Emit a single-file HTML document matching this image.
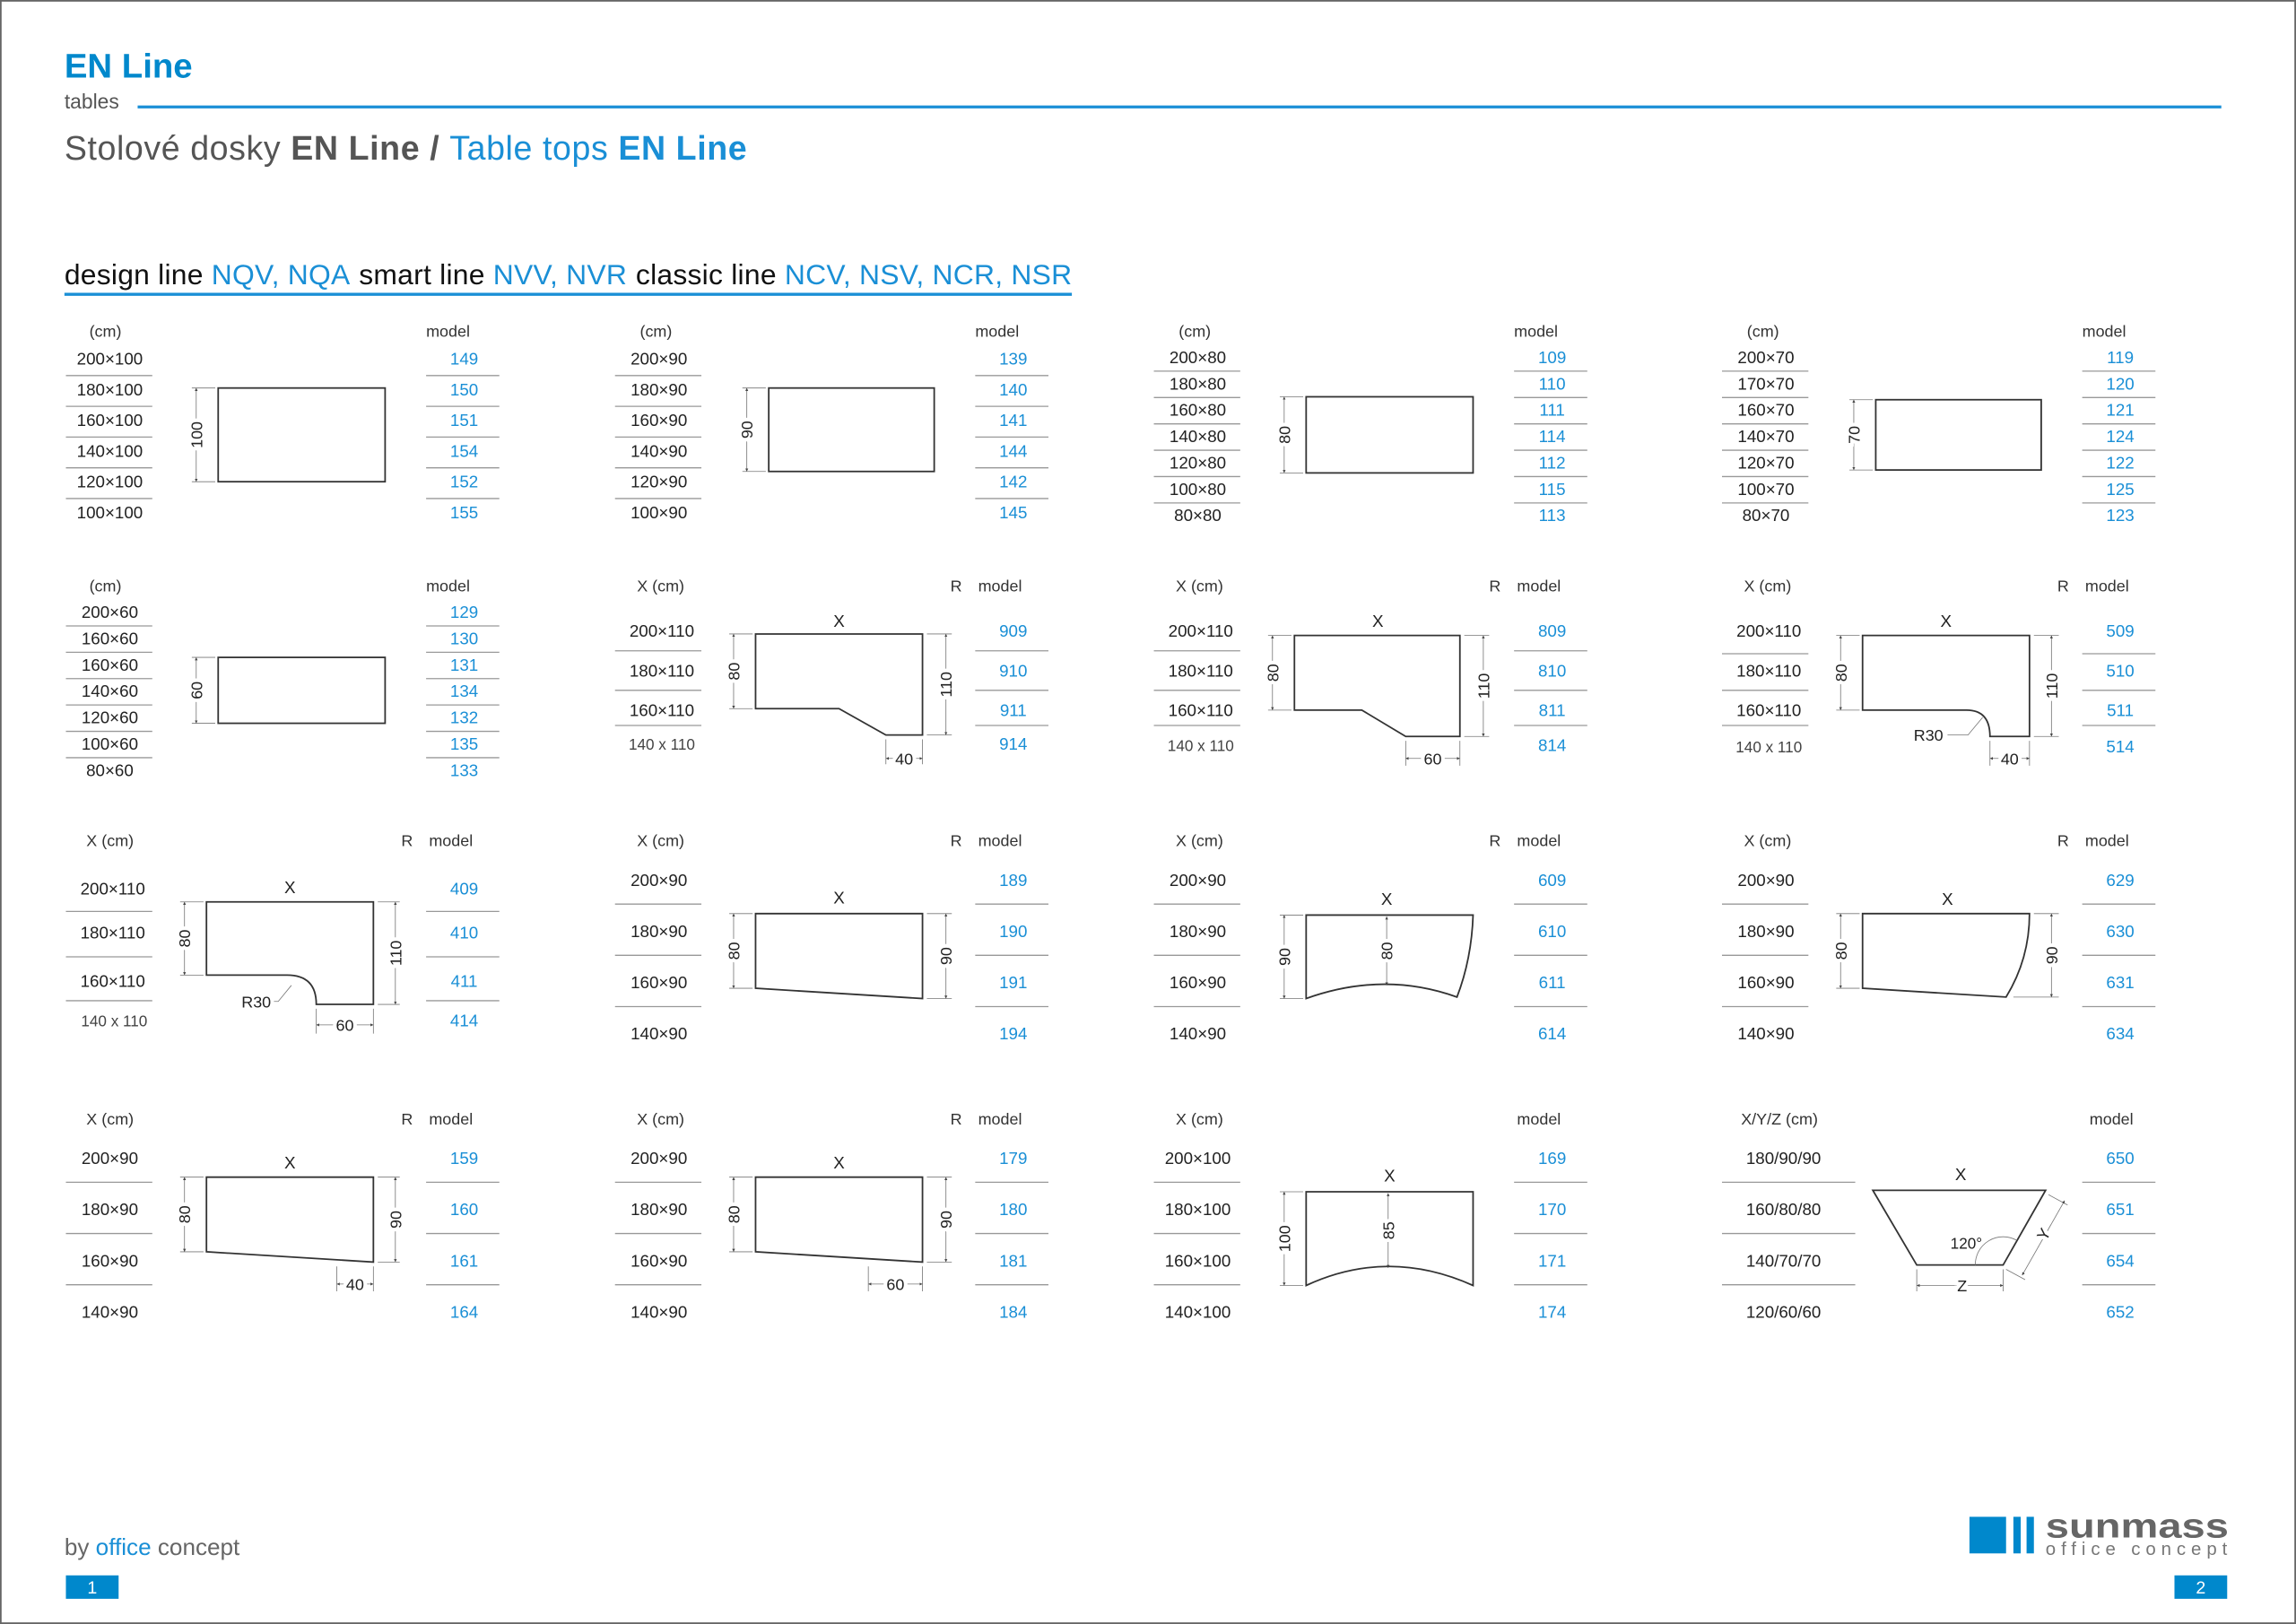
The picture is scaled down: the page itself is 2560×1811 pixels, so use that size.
<!DOCTYPE html>
<html><head><meta charset="utf-8"><style>
html,body{margin:0;padding:0;background:#fff}
svg{display:block}
text{font-family:"Liberation Sans",Arial,sans-serif}
.t{font-size:11.5px;fill:#222;text-anchor:middle}
.m{font-size:11.5px;fill:#1a8fd6;text-anchor:middle}
.h{font-size:11px;fill:#333}
.ln{stroke:#999;stroke-width:.8}
.sh{fill:none;stroke:#333;stroke-width:1.1}
.d{stroke:#777;stroke-width:.5;fill:none}
.dl{font-size:11px;fill:#222;text-anchor:middle;paint-order:stroke;stroke:#fff;stroke-width:5px}
</style></head><body>
<svg width="2560" height="1811" viewBox="0 0 1568 1109.2" xmlns="http://www.w3.org/2000/svg">
<defs>
<marker id="a" viewBox="0 0 6 6" refX="6" refY="3" markerWidth="4" markerHeight="4" orient="auto-start-reverse"><path d="M0,0L6,3L0,6z" fill="#444"/></marker>
</defs>
<rect x="0.5" y="0.5" width="1567" height="1108.2" fill="#fff" stroke="#666" stroke-width="1.2"/>

<!-- header -->
<text x="44" y="53" style="font-size:23.5px;font-weight:bold;fill:#0088cc">EN Line</text>
<text x="44" y="74" style="font-size:14px;fill:#555">tables</text>
<line x1="94" y1="73" x2="1517" y2="73" stroke="#1a8fd6" stroke-width="2"/>
<text x="44" y="109" style="font-size:23px;fill:#555" textLength="466" lengthAdjust="spacing">Stolové dosky <tspan font-weight="bold">EN Line /</tspan> <tspan fill="#1a8fd6">Table tops </tspan><tspan fill="#1a8fd6" font-weight="bold">EN Line</tspan></text>
<text x="44" y="194" style="font-size:19.5px;fill:#111" textLength="688" lengthAdjust="spacing">design line <tspan fill="#1a8fd6">NQV, NQA</tspan><tspan dx="6">smart line </tspan><tspan fill="#1a8fd6">NVV, NVR</tspan><tspan dx="6">classic line </tspan><tspan fill="#1a8fd6">NCV, NSV, NCR, NSR</tspan></text>
<line x1="44" y1="201" x2="732" y2="201" stroke="#1a8fd6" stroke-width="2"/>

<!-- ROW 1 col1 -->
<g>
<text class="h" x="61" y="230">(cm)</text><text class="h" x="291" y="230">model</text>
<text class="t" x="75" y="249">200×100</text><text class="t" x="75" y="270">180×100</text><text class="t" x="75" y="291">160×100</text><text class="t" x="75" y="312">140×100</text><text class="t" x="75" y="333">120×100</text><text class="t" x="75" y="354">100×100</text>
<text class="m" x="317" y="249">149</text><text class="m" x="317" y="270">150</text><text class="m" x="317" y="291">151</text><text class="m" x="317" y="312">154</text><text class="m" x="317" y="333">152</text><text class="m" x="317" y="354">155</text>
<path class="ln" d="M45 256.5H104M45 277.5H104M45 298.5H104M45 319.5H104M45 340.5H104M291 256.5H341M291 277.5H341M291 298.5H341M291 319.5H341M291 340.5H341"/>
<rect class="sh" x="149" y="265" width="114" height="64"/>
<path class="d" d="M131 265H147M131 329H147"/><line class="d" x1="134" y1="265" x2="134" y2="329" marker-start="url(#a)" marker-end="url(#a)"/>
<text class="dl" transform="translate(138,297) rotate(-90)">100</text>
</g>
<!-- ROW 1 col2 -->
<g>
<text class="h" x="437" y="230">(cm)</text><text class="h" x="666" y="230">model</text>
<text class="t" x="450" y="249">200×90</text><text class="t" x="450" y="270">180×90</text><text class="t" x="450" y="291">160×90</text><text class="t" x="450" y="312">140×90</text><text class="t" x="450" y="333">120×90</text><text class="t" x="450" y="354">100×90</text>
<text class="m" x="692" y="249">139</text><text class="m" x="692" y="270">140</text><text class="m" x="692" y="291">141</text><text class="m" x="692" y="312">144</text><text class="m" x="692" y="333">142</text><text class="m" x="692" y="354">145</text>
<path class="ln" d="M420 256.5H479M420 277.5H479M420 298.5H479M420 319.5H479M420 340.5H479M666 256.5H716M666 277.5H716M666 298.5H716M666 319.5H716M666 340.5H716"/>
<rect class="sh" x="525" y="265" width="113" height="57"/>
<path class="d" d="M507 265H523M507 322H523"/><line class="d" x1="510" y1="265" x2="510" y2="322" marker-start="url(#a)" marker-end="url(#a)"/>
<text class="dl" transform="translate(514,293.5) rotate(-90)">90</text>
</g>
<!-- ROW 1 col3 -->
<g>
<text class="h" x="805" y="230">(cm)</text><text class="h" x="1034" y="230">model</text>
<text class="t" x="818" y="248">200×80</text><text class="t" x="818" y="266">180×80</text><text class="t" x="818" y="284">160×80</text><text class="t" x="818" y="302">140×80</text><text class="t" x="818" y="320">120×80</text><text class="t" x="818" y="338">100×80</text><text class="t" x="818" y="356">80×80</text>
<text class="m" x="1060" y="248">109</text><text class="m" x="1060" y="266">110</text><text class="m" x="1060" y="284">111</text><text class="m" x="1060" y="302">114</text><text class="m" x="1060" y="320">112</text><text class="m" x="1060" y="338">115</text><text class="m" x="1060" y="356">113</text>
<path class="ln" d="M788 253.5H847M788 271.5H847M788 289.5H847M788 307.5H847M788 325.5H847M788 343.5H847M1034 253.5H1084M1034 271.5H1084M1034 289.5H1084M1034 307.5H1084M1034 325.5H1084M1034 343.5H1084"/>
<rect class="sh" x="892" y="271" width="114" height="52"/>
<path class="d" d="M874 271H890M874 323H890"/><line class="d" x1="877" y1="271" x2="877" y2="323" marker-start="url(#a)" marker-end="url(#a)"/>
<text class="dl" transform="translate(881,297) rotate(-90)">80</text>
</g>
<!-- ROW 1 col4 -->
<g>
<text class="h" x="1193" y="230">(cm)</text><text class="h" x="1422" y="230">model</text>
<text class="t" x="1206" y="248">200×70</text><text class="t" x="1206" y="266">170×70</text><text class="t" x="1206" y="284">160×70</text><text class="t" x="1206" y="302">140×70</text><text class="t" x="1206" y="320">120×70</text><text class="t" x="1206" y="338">100×70</text><text class="t" x="1206" y="356">80×70</text>
<text class="m" x="1448" y="248">119</text><text class="m" x="1448" y="266">120</text><text class="m" x="1448" y="284">121</text><text class="m" x="1448" y="302">124</text><text class="m" x="1448" y="320">122</text><text class="m" x="1448" y="338">125</text><text class="m" x="1448" y="356">123</text>
<path class="ln" d="M1176 253.5H1235M1176 271.5H1235M1176 289.5H1235M1176 307.5H1235M1176 325.5H1235M1176 343.5H1235M1422 253.5H1472M1422 271.5H1472M1422 289.5H1472M1422 307.5H1472M1422 325.5H1472M1422 343.5H1472"/>
<rect class="sh" x="1281" y="273" width="113" height="48"/>
<path class="d" d="M1263 273H1279M1263 321H1279"/><line class="d" x1="1266" y1="273" x2="1266" y2="321" marker-start="url(#a)" marker-end="url(#a)"/>
<text class="dl" transform="translate(1270,297) rotate(-90)">70</text>
</g>

<!-- ROW 2 col1 -->
<g>
<text class="h" x="61" y="404">(cm)</text><text class="h" x="291" y="404">model</text>
<text class="t" x="75" y="422">200×60</text><text class="t" x="75" y="440">160×60</text><text class="t" x="75" y="458">160×60</text><text class="t" x="75" y="476">140×60</text><text class="t" x="75" y="494">120×60</text><text class="t" x="75" y="512">100×60</text><text class="t" x="75" y="530">80×60</text>
<text class="m" x="317" y="422">129</text><text class="m" x="317" y="440">130</text><text class="m" x="317" y="458">131</text><text class="m" x="317" y="476">134</text><text class="m" x="317" y="494">132</text><text class="m" x="317" y="512">135</text><text class="m" x="317" y="530">133</text>
<path class="ln" d="M45 427.5H104M45 445.5H104M45 463.5H104M45 481.5H104M45 499.5H104M45 517.5H104M291 427.5H341M291 445.5H341M291 463.5H341M291 481.5H341M291 499.5H341M291 517.5H341"/>
<rect class="sh" x="149" y="449" width="114" height="45"/>
<path class="d" d="M131 449H147M131 494H147"/><line class="d" x1="134" y1="449" x2="134" y2="494" marker-start="url(#a)" marker-end="url(#a)"/>
<text class="dl" transform="translate(138,471.5) rotate(-90)">60</text>
</g>

<g>
<text class="h" x="435" y="404">X  (cm)</text><text class="h" x="649" y="404">R</text><text class="h" x="668" y="404">model</text>
<text class="t" x="452" y="435">200×110</text><text class="t" x="452" y="462">180×110</text><text class="t" x="452" y="489">160×110</text><text class="t" x="452" y="512" style="font-size:10.5px;fill:#444">140 x 110</text>
<text class="m" x="692" y="435">909</text><text class="m" x="692" y="462">910</text><text class="m" x="692" y="489">911</text><text class="m" x="692" y="512">914</text>
<path class="ln" d="M420 444.5H479M420 471.5H479M420 495.5H479M666 444.5H716M666 471.5H716M666 495.5H716"/>
<text class="t" x="573" y="428">X</text>
<path class="sh" d="M516 433H630V502H605L573 484H516Z"/>
<path class="d" d="M498 433H514M498 484H514M633 433H650M633 502H650M605 505V522M630 505V522"/>
<line class="d" x1="501" y1="433" x2="501" y2="484" marker-start="url(#a)" marker-end="url(#a)"/>
<text class="dl" transform="translate(505,458.5) rotate(-90)">80</text>
<line class="d" x1="646" y1="433" x2="646" y2="502" marker-start="url(#a)" marker-end="url(#a)"/>
<text class="dl" transform="translate(650,467.5) rotate(-90)">110</text>
<line class="d" x1="605" y1="518" x2="630" y2="518" marker-start="url(#a)" marker-end="url(#a)"/>
<text class="dl" x="617.5" y="522">40</text>
</g>
<g>
<text class="h" x="803" y="404">X  (cm)</text><text class="h" x="1017" y="404">R</text><text class="h" x="1036" y="404">model</text>
<text class="t" x="820" y="435">200×110</text><text class="t" x="820" y="462">180×110</text><text class="t" x="820" y="489">160×110</text><text class="t" x="820" y="513" style="font-size:10.5px;fill:#444">140 x 110</text>
<text class="m" x="1060" y="435">809</text><text class="m" x="1060" y="462">810</text><text class="m" x="1060" y="489">811</text><text class="m" x="1060" y="513">814</text>
<path class="ln" d="M788 444.5H847M788 471.5H847M788 495.5H847M1034 444.5H1084M1034 471.5H1084M1034 495.5H1084"/>
<text class="t" x="941" y="428">X</text>
<path class="sh" d="M884 434H997V503H960L930 485H884Z"/>
<path class="d" d="M866 434H882M866 485H882M1000 434H1017M1000 503H1017M960 506V523M997 506V523"/>
<line class="d" x1="869" y1="434" x2="869" y2="485" marker-start="url(#a)" marker-end="url(#a)"/>
<text class="dl" transform="translate(873,459.5) rotate(-90)">80</text>
<line class="d" x1="1013" y1="434" x2="1013" y2="503" marker-start="url(#a)" marker-end="url(#a)"/>
<text class="dl" transform="translate(1017,468.5) rotate(-90)">110</text>
<line class="d" x1="960" y1="518" x2="997" y2="518" marker-start="url(#a)" marker-end="url(#a)"/>
<text class="dl" x="978.5" y="522">60</text>
</g>
<g>
<text class="h" x="1191" y="404">X  (cm)</text><text class="h" x="1405" y="404">R</text><text class="h" x="1424" y="404">model</text>
<text class="t" x="1208" y="435">200×110</text><text class="t" x="1208" y="462">180×110</text><text class="t" x="1208" y="489">160×110</text><text class="t" x="1208" y="514" style="font-size:10.5px;fill:#444">140 x 110</text>
<text class="m" x="1448" y="435">509</text><text class="m" x="1448" y="462">510</text><text class="m" x="1448" y="489">511</text><text class="m" x="1448" y="514">514</text>
<path class="ln" d="M1176 446.5H1235M1176 471.5H1235M1176 495.5H1235M1422 446.5H1472M1422 471.5H1472M1422 495.5H1472"/>
<text class="t" x="1329" y="428">X</text>
<path class="sh" d="M1272 434H1386V503H1359Q1359 485 1343 485H1272Z"/>
<path class="d" d="M1254 434H1270M1254 485H1270M1389 434H1406M1389 503H1406M1359 506V523M1386 506V523M1330 502H1344L1354 490"/>
<line class="d" x1="1257" y1="434" x2="1257" y2="485" marker-start="url(#a)" marker-end="url(#a)"/>
<text class="dl" transform="translate(1261,459.5) rotate(-90)">80</text>
<line class="d" x1="1401" y1="434" x2="1401" y2="503" marker-start="url(#a)" marker-end="url(#a)"/>
<text class="dl" transform="translate(1405,468.5) rotate(-90)">110</text>
<line class="d" x1="1359" y1="518" x2="1386" y2="518" marker-start="url(#a)" marker-end="url(#a)"/>
<text class="dl" x="1372.5" y="522">40</text>
<text class="dl" x="1317" y="506">R30</text>
</g>

<!-- ROW 3 col1 -->
<g>
<text class="h" x="59" y="578">X  (cm)</text><text class="h" x="274" y="578">R</text><text class="h" x="293" y="578">model</text>
<text class="t" x="77" y="611">200×110</text><text class="t" x="77" y="641">180×110</text><text class="t" x="77" y="674">160×110</text><text class="t" x="78" y="701" style="font-size:10.5px;fill:#444">140 x 110</text>
<text class="m" x="317" y="611">409</text><text class="m" x="317" y="641">410</text><text class="m" x="317" y="674">411</text><text class="m" x="317" y="701">414</text>
<path class="ln" d="M45 622.5H104M45 653.5H104M45 683.5H104M291 622.5H341M291 653.5H341M291 683.5H341"/>
<text class="t" x="198" y="610">X</text>
<path class="sh" d="M141 616H255V686H216Q216 666 196 666H141Z"/>
<path class="d" d="M123 616H139M123 666H139M258 616H273M258 686H273M216 689V706M255 689V706M175 684H190L199 673"/>
<line class="d" x1="126" y1="616" x2="126" y2="666" marker-start="url(#a)" marker-end="url(#a)"/>
<text class="dl" transform="translate(130,641) rotate(-90)">80</text>
<line class="d" x1="270" y1="616" x2="270" y2="686" marker-start="url(#a)" marker-end="url(#a)"/>
<text class="dl" transform="translate(274,651) rotate(-90)">110</text>
<line class="d" x1="216" y1="700" x2="255" y2="700" marker-start="url(#a)" marker-end="url(#a)"/>
<text class="dl" x="235.5" y="704">60</text>
<text class="dl" x="175" y="688">R30</text>
</g>

<g>
<text class="h" x="435" y="578">X  (cm)</text><text class="h" x="649" y="578">R</text><text class="h" x="668" y="578">model</text>
<text class="t" x="450" y="605">200×90</text><text class="t" x="450" y="640">180×90</text><text class="t" x="450" y="675">160×90</text><text class="t" x="450" y="710">140×90</text>
<text class="m" x="692" y="605">189</text><text class="m" x="692" y="640">190</text><text class="m" x="692" y="675">191</text><text class="m" x="692" y="710">194</text>
<path class="ln" d="M420 617.5H479M420 652.5H479M420 687.5H479M666 617.5H716M666 652.5H716M666 687.5H716"/>
<text class="t" x="573" y="617">X</text>
<path class="sh" d="M516 624H630V682L516 675Z"/>
<path class="d" d="M498 624H514M498 675H514M633 624H650M633 682H650"/>
<line class="d" x1="501" y1="624" x2="501" y2="675" marker-start="url(#a)" marker-end="url(#a)"/>
<text class="dl" transform="translate(505,649.5) rotate(-90)">80</text>
<line class="d" x1="646" y1="624" x2="646" y2="682" marker-start="url(#a)" marker-end="url(#a)"/>
<text class="dl" transform="translate(650,653) rotate(-90)">90</text>
</g>
<g>
<text class="h" x="803" y="578">X  (cm)</text><text class="h" x="1017" y="578">R</text><text class="h" x="1036" y="578">model</text>
<text class="t" x="818" y="605">200×90</text><text class="t" x="818" y="640">180×90</text><text class="t" x="818" y="675">160×90</text><text class="t" x="818" y="710">140×90</text>
<text class="m" x="1060" y="605">609</text><text class="m" x="1060" y="640">610</text><text class="m" x="1060" y="675">611</text><text class="m" x="1060" y="710">614</text>
<path class="ln" d="M788 617.5H847M788 652.5H847M788 687.5H847M1034 617.5H1084M1034 652.5H1084M1034 687.5H1084"/>
<text class="t" x="947" y="618">X</text>
<path class="sh" d="M892 625H1006Q1005 655 995 681Q945 663 892 682Z"/>
<path class="d" d="M874 625H890M874 682H890"/>
<line class="d" x1="877" y1="625" x2="877" y2="682" marker-start="url(#a)" marker-end="url(#a)"/>
<text class="dl" transform="translate(881,653.5) rotate(-90)">90</text>
<line class="d" x1="947" y1="626" x2="947" y2="673" marker-start="url(#a)" marker-end="url(#a)"/>
<text class="dl" transform="translate(951,649.5) rotate(-90)">80</text>
</g>
<g>
<text class="h" x="1191" y="578">X  (cm)</text><text class="h" x="1405" y="578">R</text><text class="h" x="1424" y="578">model</text>
<text class="t" x="1206" y="605">200×90</text><text class="t" x="1206" y="640">180×90</text><text class="t" x="1206" y="675">160×90</text><text class="t" x="1206" y="710">140×90</text>
<text class="m" x="1448" y="605">629</text><text class="m" x="1448" y="640">630</text><text class="m" x="1448" y="675">631</text><text class="m" x="1448" y="710">634</text>
<path class="ln" d="M1176 617.5H1235M1176 652.5H1235M1176 687.5H1235M1422 617.5H1472M1422 652.5H1472M1422 687.5H1472"/>
<text class="t" x="1330" y="618">X</text>
<path class="sh" d="M1272 624H1386Q1386 655 1370 681L1272 675Z"/>
<path class="d" d="M1254 624H1270M1254 675H1270M1389 624H1406M1375 681H1406"/>
<line class="d" x1="1257" y1="624" x2="1257" y2="675" marker-start="url(#a)" marker-end="url(#a)"/>
<text class="dl" transform="translate(1261,649.5) rotate(-90)">80</text>
<line class="d" x1="1401" y1="624" x2="1401" y2="681" marker-start="url(#a)" marker-end="url(#a)"/>
<text class="dl" transform="translate(1405,652.5) rotate(-90)">90</text>
</g>

<!-- ROW 4 -->
<g>
<text class="h" x="59" y="768">X  (cm)</text><text class="h" x="274" y="768">R</text><text class="h" x="293" y="768">model</text>
<text class="t" x="75" y="795">200×90</text><text class="t" x="75" y="830">180×90</text><text class="t" x="75" y="865">160×90</text><text class="t" x="75" y="900">140×90</text>
<text class="m" x="317" y="795">159</text><text class="m" x="317" y="830">160</text><text class="m" x="317" y="865">161</text><text class="m" x="317" y="900">164</text>
<path class="ln" d="M45 807.5H104M45 842.5H104M45 877.5H104M291 807.5H341M291 842.5H341M291 877.5H341"/>
<text class="t" x="198" y="798">X</text>
<path class="sh" d="M141 804H255V862L141 855Z"/>
<path class="d" d="M123 804H139M123 855H139M258 804H273M258 862H273M230 865V882M255 865V882"/>
<line class="d" x1="126" y1="804" x2="126" y2="855" marker-start="url(#a)" marker-end="url(#a)"/>
<text class="dl" transform="translate(130,829.5) rotate(-90)">80</text>
<line class="d" x1="270" y1="804" x2="270" y2="862" marker-start="url(#a)" marker-end="url(#a)"/>
<text class="dl" transform="translate(274,833) rotate(-90)">90</text>
<line class="d" x1="230" y1="877" x2="255" y2="877" marker-start="url(#a)" marker-end="url(#a)"/>
<text class="dl" x="242.5" y="881">40</text>
</g>
<g>
<text class="h" x="435" y="768">X  (cm)</text><text class="h" x="649" y="768">R</text><text class="h" x="668" y="768">model</text>
<text class="t" x="450" y="795">200×90</text><text class="t" x="450" y="830">180×90</text><text class="t" x="450" y="865">160×90</text><text class="t" x="450" y="900">140×90</text>
<text class="m" x="692" y="795">179</text><text class="m" x="692" y="830">180</text><text class="m" x="692" y="865">181</text><text class="m" x="692" y="900">184</text>
<path class="ln" d="M420 807.5H479M420 842.5H479M420 877.5H479M666 807.5H716M666 842.5H716M666 877.5H716"/>
<text class="t" x="573" y="798">X</text>
<path class="sh" d="M516 804H630V862L516 855Z"/>
<path class="d" d="M498 804H514M498 855H514M633 804H650M633 862H650M593 865V882M630 865V882"/>
<line class="d" x1="501" y1="804" x2="501" y2="855" marker-start="url(#a)" marker-end="url(#a)"/>
<text class="dl" transform="translate(505,829.5) rotate(-90)">80</text>
<line class="d" x1="646" y1="804" x2="646" y2="862" marker-start="url(#a)" marker-end="url(#a)"/>
<text class="dl" transform="translate(650,833) rotate(-90)">90</text>
<line class="d" x1="593" y1="877" x2="630" y2="877" marker-start="url(#a)" marker-end="url(#a)"/>
<text class="dl" x="611.5" y="881">60</text>
</g>
<g>
<text class="h" x="803" y="768">X  (cm)</text><text class="h" x="1036" y="768">model</text>
<text class="t" x="818" y="795">200×100</text><text class="t" x="818" y="830">180×100</text><text class="t" x="818" y="865">160×100</text><text class="t" x="818" y="900">140×100</text>
<text class="m" x="1060" y="795">169</text><text class="m" x="1060" y="830">170</text><text class="m" x="1060" y="865">171</text><text class="m" x="1060" y="900">174</text>
<path class="ln" d="M788 807.5H847M788 842.5H847M788 877.5H847M1034 807.5H1084M1034 842.5H1084M1034 877.5H1084"/>
<text class="t" x="949" y="807">X</text>
<path class="sh" d="M892 814H1006V878Q948 852 892 878Z"/>
<path class="d" d="M874 814H890M874 878H890"/>
<line class="d" x1="877" y1="814" x2="877" y2="878" marker-start="url(#a)" marker-end="url(#a)"/>
<text class="dl" transform="translate(881,846) rotate(-90)">100</text>
<line class="d" x1="948" y1="815" x2="948" y2="866" marker-start="url(#a)" marker-end="url(#a)"/>
<text class="dl" transform="translate(952,840.5) rotate(-90)">85</text>
</g>
<g>
<text class="h" x="1189" y="768">X/Y/Z  (cm)</text><text class="h" x="1427" y="768">model</text>
<text class="t" x="1218" y="795">180/90/90</text><text class="t" x="1218" y="830">160/80/80</text><text class="t" x="1218" y="865">140/70/70</text><text class="t" x="1218" y="900">120/60/60</text>
<text class="m" x="1448" y="795">650</text><text class="m" x="1448" y="830">651</text><text class="m" x="1448" y="865">654</text><text class="m" x="1448" y="900">652</text>
<path class="ln" d="M1176 807.5H1267M1176 842.5H1267M1176 877.5H1267M1422 807.5H1472M1422 842.5H1472M1422 877.5H1472"/>
<text class="t" x="1339" y="806">X</text>
<path class="sh" d="M1279 813H1397L1368 864H1309Z"/>
<path class="d" d="M1349 864A19 19 0 0 1 1377 847"/>
<text x="1332" y="853" style="font-size:10.5px;fill:#222">120°</text>
<path class="d" d="M1309 867V882M1368 867V882M1399 816L1412 823M1370 867L1383 874"/>
<line class="d" x1="1309" y1="878" x2="1368" y2="878" marker-start="url(#a)" marker-end="url(#a)"/>
<text class="dl" x="1340" y="882">Z</text>
<line class="d" x1="1410" y1="820" x2="1381" y2="871" marker-start="url(#a)" marker-end="url(#a)"/>
<text class="dl" transform="translate(1399,845) rotate(-60)">Y</text>
</g>

<!-- footer -->
<text x="44" y="1062" style="font-size:16px;fill:#666">by <tspan fill="#1a8fd6">office</tspan> concept</text>
<rect x="45" y="1076" width="36" height="16" fill="#0088cc"/>
<text x="63" y="1088.5" style="font-size:12px;fill:#fff;text-anchor:middle">1</text>
<rect x="1485" y="1076" width="36" height="16" fill="#0088cc"/>
<text x="1503" y="1088.5" style="font-size:12px;fill:#fff;text-anchor:middle">2</text>
<rect x="1345" y="1036" width="25" height="25" fill="#0088cc"/>
<rect x="1375" y="1036" width="5" height="25" fill="#0088cc"/>
<rect x="1384" y="1036" width="5" height="25" fill="#0088cc"/>
<text x="1397" y="1050" style="font-size:23px;font-weight:bold;fill:#666" textLength="125" lengthAdjust="spacingAndGlyphs">sunmass</text>
<text x="1397" y="1062" style="font-size:12.5px;fill:#777" textLength="124" lengthAdjust="spacing">office concept</text>
</svg>
</body></html>
